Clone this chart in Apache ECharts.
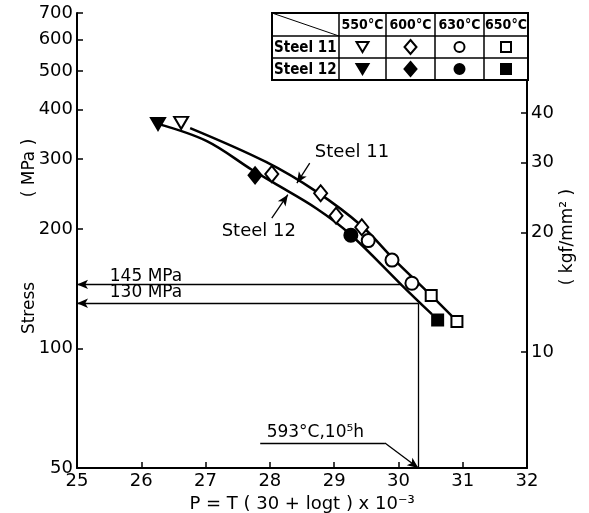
<!DOCTYPE html>
<html><head><meta charset="utf-8">
<script src="https://cdn.jsdelivr.net/npm/echarts@6/dist/echarts.min.js"></script>
<style>html,body{margin:0;padding:0;background:#fff}#c{width:589px;height:513px}</style>
</head><body><div id="c"></div>
<script>
// ---- data ----
const yTicksMPa = [50, 100, 200, 300, 400, 500, 600, 700];
const yTicksKgf = [10, 20, 30, 40];
const tempLabels = ['550°C', '600°C', '630°C', '650°C'];
const steelNames = ['Steel 11', 'Steel 12'];
// [P, stress MPa]
const steel11_550 = [[26.62, 370]];
const steel11_600 = [[28.03, 275], [28.79, 246], [29.03, 216], [29.43, 202]];
const steel11_630 = [[29.53, 187], [29.90, 167], [30.21, 146]];
const steel11_650 = [[30.51, 136], [30.91, 117]];
const steel12_550 = [[26.26, 368]];
const steel12_600 = [[27.77, 273]];
const steel12_630 = [[29.26, 193]];
const steel12_650 = [[30.61, 118]];
const curve11 = [[26.76, 359], [27.94, 295], [28.73, 248], [29.43, 203.5], [29.91, 169], [30.49, 137], [30.89, 118]];
const curve12 = [[26.26, 368], [27.02, 333], [27.72, 282], [28.05, 262], [28.73, 225], [29.25, 194], [30.05, 144.5], [30.52, 122]];
const stressA = 145, stressB = 130, pDesign = 30.31;
const KGF = 9.80665;

// ---- helpers ----
const L = Math.log10;
const tr = a => a.map(p => [p[0], L(p[1])]);
const FONT = 'DejaVu Sans';

function sc(data, symbol, size, filled, rotate) {
  return {
    type: 'scatter', data: tr(data), symbol: symbol, symbolSize: size,
    symbolRotate: rotate || 0, z: 5, silent: true,
    itemStyle: { color: filled ? '#000' : '#fff', borderColor: '#000', borderWidth: 2, opacity: 1 }
  };
}
const ml = (a, b, sa, sb) => [
  { coord: [a[0], L(a[1])], symbol: sa || 'none' },
  { coord: [b[0], L(b[1])], symbol: sb || 'none' }
];
const mp = (x, s, text, extra) => ({
  coord: [x, L(s)], symbol: 'circle', symbolSize: 0,
  label: Object.assign({ show: true, position: 'right', distance: 0, formatter: text,
    color: '#000', fontFamily: FONT, fontSize: 17 }, extra || {})
});

const chart = echarts.init(document.getElementById('c'));
const axisCommon = {
  axisLine: { show: true, lineStyle: { color: '#000', width: 2 } },
  splitLine: { show: false },
};
const option = {
  animation: false,
  backgroundColor: '#fff',
  grid: { left: 77, right: 62, top: 13, bottom: 45, outerBoundsMode: 'none' },
  xAxis: Object.assign({
    type: 'value', min: 25, max: 32, interval: 1,
    axisTick: { inside: true, length: 6, lineStyle: { color: '#000', width: 1.5 } },
    axisLabel: { color: '#000', fontFamily: FONT, fontSize: 18, margin: 4 },
    name: 'P = T ( 30 + logt ) x 10⁻³', nameLocation: 'middle', nameGap: 22,
    nameTextStyle: { color: '#000', fontFamily: FONT, fontSize: 18 }
  }, axisCommon),
  yAxis: [
    Object.assign({
      type: 'value', min: L(50), max: L(700), position: 'left',
      axisTick: { inside: true, length: 6, customValues: yTicksMPa.map(L), lineStyle: { color: '#000', width: 1.5 } },
      axisLabel: { customValues: yTicksMPa.map(L), formatter: v => String(Math.round(Math.pow(10, v))),
        color: '#000', fontFamily: FONT, fontSize: 18, margin: 4 }
    }, axisCommon),
    Object.assign({
      type: 'value', min: L(50), max: L(700), position: 'right',
      axisTick: { inside: true, length: 6, customValues: yTicksKgf.map(k => L(k * KGF)), lineStyle: { color: '#000', width: 1.5 } },
      axisLabel: { customValues: yTicksKgf.map(k => L(k * KGF)), formatter: v => String(Math.round(Math.pow(10, v) / KGF)),
        color: '#000', fontFamily: FONT, fontSize: 18, margin: 4 }
    }, axisCommon)
  ],
  series: [
    {
      type: 'line', data: tr(curve12), smooth: 0.35, symbol: 'none', silent: true, z: 2,
      lineStyle: { color: '#000', width: 2.5 }
    },
    {
      type: 'line', data: tr(curve11), smooth: 0.35, symbol: 'none', silent: true, z: 2,
      lineStyle: { color: '#000', width: 2.5 },
      markLine: {
        silent: true, symbolSize: [7, 11], label: { show: false },
        lineStyle: { color: '#000', width: 1.3, type: 'solid' },
        data: [
          ml([25, stressA], [30.05, stressA], 'arrow', 'none'),
          ml([25, stressB], [pDesign, stressB], 'arrow', 'none'),
          ml([pDesign, stressB], [pDesign, 50]),
          ml([27.85, 57.8], [29.79, 57.8]),
          ml([29.79, 57.8], [pDesign, 50], 'none', 'arrow'),
          ml([28.62, 293], [28.42, 261], 'none', 'arrow'),
          ml([28.03, 213], [28.28, 244], 'none', 'arrow')
        ]
      },
      markPoint: {
        silent: true,
        data: [
          mp(28.70, 312, 'Steel 11', { fontSize: 18 }),
          mp(27.25, 197, 'Steel 12', { fontSize: 18 }),
          mp(25.51, 152, '145 MPa'),
          mp(25.51, 138, '130 MPa'),
          mp(27.95, 61.3, '593°C,10⁵h')
        ]
      }
    },
    sc(steel11_550, 'triangle', [14, 12], false, 180),
    sc(steel11_600, 'diamond', [13, 16], false),
    sc(steel11_630, 'circle', 13, false),
    sc(steel11_650, 'rect', 11, false),
    sc(steel12_550, 'triangle', [14, 12], true, 180),
    sc(steel12_600, 'diamond', [13, 16], true),
    sc(steel12_630, 'circle', 13, true),
    sc(steel12_650, 'rect', 11, true)
  ]
};

// ---- legend table (graphic) ----
const tx = [272, 339, 386, 435, 484, 528];
const ty = [13, 36, 58, 80];
const g = [];
g.push({ type: 'rect', shape: { x: tx[0], y: ty[0], width: tx[5] - tx[0], height: ty[3] - ty[0] },
  style: { fill: '#fff', stroke: '#000', lineWidth: 2 }, z: 10 });
[ty[1], ty[2]].forEach(y => g.push({ type: 'line', shape: { x1: tx[0], y1: y, x2: tx[5], y2: y }, style: { stroke: '#000', lineWidth: 1.5 }, z: 11 }));
tx.slice(1, 5).forEach(x => g.push({ type: 'line', shape: { x1: x, y1: ty[0], x2: x, y2: ty[3] }, style: { stroke: '#000', lineWidth: 1.5 }, z: 11 }));
g.push({ type: 'line', shape: { x1: tx[0], y1: ty[0], x2: tx[1], y2: ty[1] }, style: { stroke: '#000', lineWidth: 1 }, z: 11 });
tempLabels.forEach((t, i) => g.push({ type: 'text', x: (tx[i + 1] + tx[i + 2]) / 2, y: (ty[0] + ty[1]) / 2 + 1, z: 12,
  style: { text: t, align: 'center', verticalAlign: 'middle', fontFamily: 'DejaVu Sans Condensed', fontWeight: 'bold', fontSize: 14, fill: '#000' } }));
steelNames.forEach((t, i) => g.push({ type: 'text', x: tx[0] + 2, y: (ty[i + 1] + ty[i + 2]) / 2 + 1, z: 12,
  style: { text: t, align: 'left', verticalAlign: 'middle', fontFamily: 'DejaVu Sans Condensed', fontWeight: 'bold', fontSize: 15, fill: '#000' } }));
function legendMark(kind, cx, cy, filled) {
  const st = { fill: filled ? '#000' : '#fff', stroke: '#000', lineWidth: 2 };
  if (kind === 0) return { type: 'polygon', shape: { points: [[cx - 6, cy - 5], [cx + 6, cy - 5], [cx, cy + 5]] }, style: st, z: 12 };
  if (kind === 1) return { type: 'polygon', shape: { points: [[cx, cy - 7], [cx + 6, cy], [cx, cy + 7], [cx - 6, cy]] }, style: st, z: 12 };
  if (kind === 2) return { type: 'circle', shape: { cx: cx, cy: cy, r: 5 }, style: st, z: 12 };
  return { type: 'rect', shape: { x: cx - 5, y: cy - 5, width: 10, height: 10 }, style: st, z: 12 };
}
for (let r = 0; r < 2; r++) for (let k = 0; k < 4; k++)
  g.push(legendMark(k, (tx[k + 1] + tx[k + 2]) / 2, (ty[r + 1] + ty[r + 2]) / 2, r === 1));
// axis titles
g.push({ type: 'text', x: 30, y: 168, rotation: Math.PI / 2, z: 12,
  style: { text: '( MPa )', align: 'center', verticalAlign: 'middle', fontFamily: FONT, fontSize: 17, fill: '#000' } });
g.push({ type: 'text', x: 30, y: 308, rotation: Math.PI / 2, z: 12,
  style: { text: 'Stress', align: 'center', verticalAlign: 'middle', fontFamily: FONT, fontSize: 17, fill: '#000' } });
g.push({ type: 'text', x: 568, y: 237, rotation: Math.PI / 2, z: 12,
  style: { text: '( kgf/mm² )', align: 'center', verticalAlign: 'middle', fontFamily: FONT, fontSize: 17, fill: '#000' } });
option.graphic = g;
chart.setOption(option);
</script></body></html>
